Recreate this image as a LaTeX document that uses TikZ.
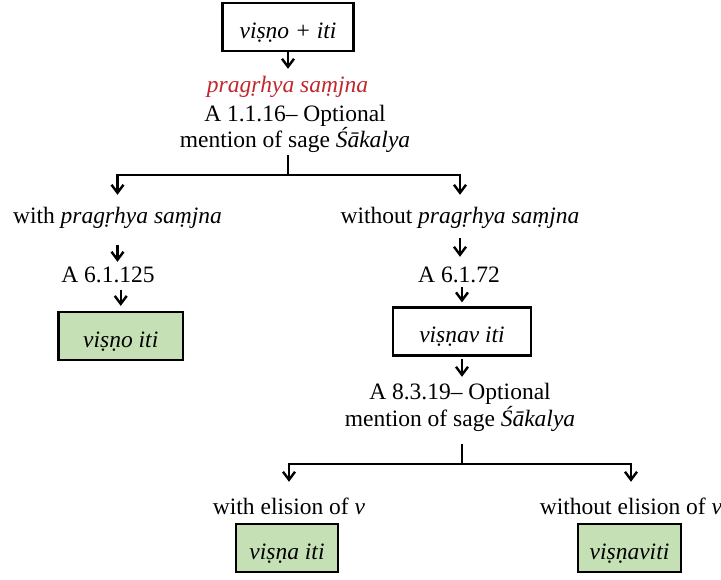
\documentclass[tikz,border=0pt]{standalone}
\usepackage{fontspec}
\setmainfont{Liberation Serif}
\usetikzlibrary{arrows.meta}
\definecolor{boxgreen}{HTML}{C5E0B4}
\definecolor{sred}{HTML}{C0282D}
\begin{document}
\begin{tikzpicture}[x=1pt,y=-1pt,
  txt/.style={inner sep=0pt, text height=16pt, text depth=5pt, anchor=base, font=\fontsize{23.5}{28}\selectfont},
  stepbox/.style={draw, line width=2.2pt, inner sep=0pt, text height=22.5pt, text depth=0pt, minimum height=48pt, font=\fontsize{23.5}{28}\selectfont\itshape},
  greenbox/.style={stepbox, fill=boxgreen},
  conn/.style={line width=2.2pt},
  arr/.style={line width=2.2pt, -{Straight Barb[length=8pt,width=12pt,line width=2.4pt]}}]
\useasboundingbox (0,0) rectangle (721,579);
% top
\node[stepbox, minimum width=131pt] (b1) at (288,27) {viṣṇo + iti};
\node[txt, text=sred, font=\fontsize{23.5}{28}\selectfont\itshape] (red) at (287.5,92) {pragṛhya saṃjna};
\node[txt] (a1) at (295,121) {A 1.1.16– Optional};
\node[txt] (m1) at (295,147) {mention of sage \textit{Śākalya}};
\coordinate (j1) at (288,175);
% left branch
\node[txt] (w1) at (117.5,223) {with \textit{pragṛhya saṃjna}};
\node[txt] (a2) at (108,282) {A 6.1.125};
\node[greenbox, minimum width=124.5pt] (g1) at (120.75,336) {viṣṇo iti};
% right branch
\node[txt] (wo1) at (460,223) {without \textit{pragṛhya saṃjna}};
\node[txt] (a3) at (459,282) {A 6.1.72};
\node[stepbox, minimum width=138pt] (b2) at (462,331.5) {viṣṇav iti};
\node[txt] (a4) at (460,399) {A 8.3.19– Optional};
\node[txt] (m2) at (460,426) {mention of sage \textit{Śākalya}};
\coordinate (j2) at (462,464);
\node[txt] (w2) at (289,514) {with elision of \textit{v}};
\node[txt] (wo2) at (631,514) {without elision of \textit{v}};
\node[greenbox, minimum width=102pt] (g2) at (287,548) {viṣṇa iti};
\node[greenbox, minimum width=103pt] (g3) at (629.5,548) {viṣṇaviti};
% connectors
\draw[arr, shorten >=7pt] (b1.south) -- (b1.south |- red.north);
\draw[conn, shorten <=3pt] (b1.south |- m1.south) -- (j1);
\draw[arr, shorten >=12pt] (j1) -| (w1.north);
\draw[arr, shorten >=12pt] (j1) -| (wo1.north);
\draw[arr, shorten <=17pt, shorten >=4pt] (w1.south) -- (w1.south |- a2.north);
\draw[arr, shorten <=3pt, shorten >=5pt] (g1.north |- a2.south) -- (g1.north);
\draw[arr, shorten <=10pt, shorten >=9pt] (wo1.south) -- (wo1.south |- a3.north);
\draw[arr, shorten >=4pt] (b2.north |- a3.south) -- (b2.north);
\draw[arr, shorten <=2pt, shorten >=6pt] (b2.south) -- (b2.south |- a4.north);
\draw[conn, shorten <=13pt] (j2 |- m2.south) -- (j2);
\draw[arr, shorten >=16pt] (j2) -| (w2.north);
\draw[arr, shorten >=16pt] (j2) -| (wo2.north);
\end{tikzpicture}
\end{document}
